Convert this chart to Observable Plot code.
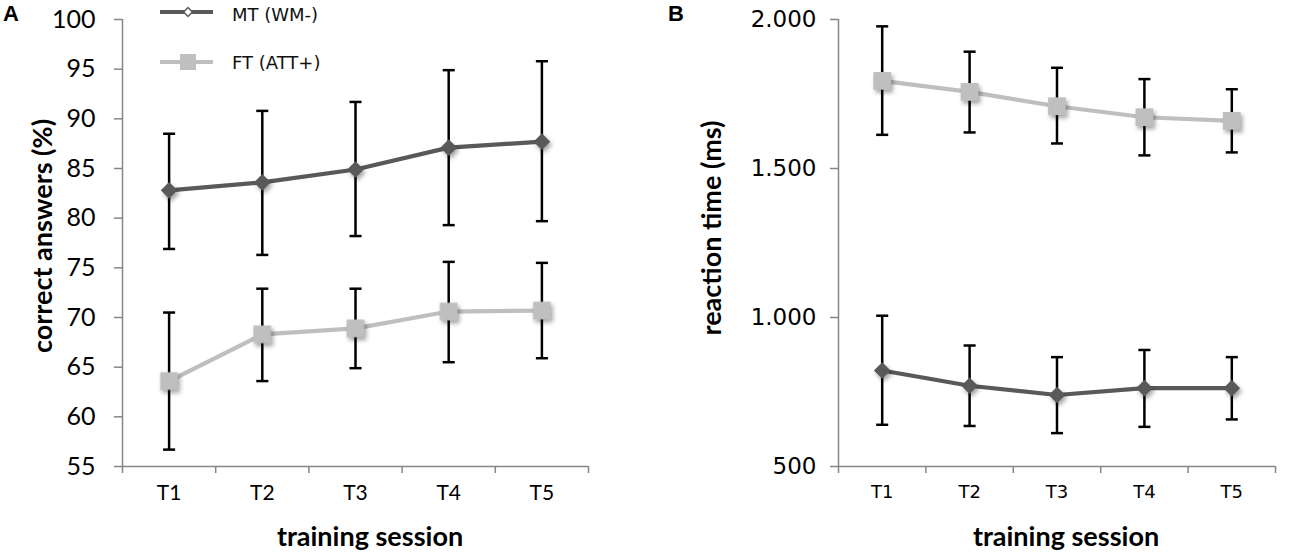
<!DOCTYPE html>
<html>
<head>
<meta charset="utf-8">
<script src="https://cdn.jsdelivr.net/npm/d3@7"></script>
<script src="https://cdn.jsdelivr.net/npm/@observablehq/plot@0.6"></script>
<style>
  html, body { margin: 0; padding: 0; background: #fff; }
  #wrap { position: relative; width: 1300px; height: 555px; overflow: hidden; }
  .panel { position: absolute; top: 0; }
  .ttl { position: absolute; font-family: Lato, "Open Sans", sans-serif; font-weight: 700; color: #000; white-space: nowrap; line-height: 1; }
  .letter { position: absolute; font-family: "Liberation Sans", Arial, sans-serif; font-weight: 700; font-size: 22px; line-height: 1; }
  .leg { position: absolute; font-family: "DejaVu Sans", sans-serif; font-size: 18px; color: #111; white-space: nowrap; line-height: 1; }
</style>
</head>
<body>
<div id="wrap"></div>
<script>
// ---- data ----
const sessions = ["T1", "T2", "T3", "T4", "T5"];
const seriesNames = ["MT (WM-)", "FT (ATT+)"];

// Panel A: correct answers (%)
const mtCorrect   = [82.8, 83.6, 84.9, 87.1, 87.7];
const mtCorrectLo = [76.9, 76.3, 78.2, 79.3, 79.7];
const mtCorrectHi = [88.5, 90.8, 91.7, 94.9, 95.8];
const ftCorrect   = [63.6, 68.3, 68.9, 70.6, 70.7];
const ftCorrectLo = [56.7, 63.6, 64.9, 65.5, 65.9];
const ftCorrectHi = [70.5, 72.9, 72.9, 75.6, 75.5];

// Panel B: reaction time (ms)
const mtRT   = [822, 771, 740, 763, 763];
const mtRTLo = [640, 636, 612, 633, 658];
const mtRTHi = [1006, 906, 867, 891, 867];
const ftRT   = [1794, 1757, 1709, 1672, 1660];
const ftRTLo = [1613, 1621, 1584, 1544, 1554];
const ftRTHi = [1977, 1892, 1838, 1800, 1766];

const yTicksA = [55, 60, 65, 70, 75, 80, 85, 90, 95, 100];
const yTicksB = [500, 1000, 1500, 2000];

// ---- styles ----
const MT_COLOR = "#595959";
const FT_COLOR = "#bfbfbf";
const AXIS_COLOR = "#868686";

const toRows = (vals, lo, hi) => vals.map((v, i) => ({x: i + 1, s: sessions[i], v, lo: lo[i], hi: hi[i]}));

const capSymbol = {
  draw(ctx, size) {
    const w = Math.sqrt(size);
    ctx.moveTo(-w / 2, 0);
    ctx.lineTo(w / 2, 0);
  }
};

const deLocale = d3.formatLocale({decimal: ",", thousands: ".", grouping: [3], currency: ["", ""]});

function panel({mt, ft, yDomain, yTicks, yFormat, tickFont, tickSize, xTickFont, xTickSize, marginLeft, marginRight, yPad}) {
  const n = sessions.length;
  const bounds = d3.range(n + 1).map(i => i + 0.5);
  const centers = d3.range(1, n + 1);
  const shadow = "drop-shadow(2px 3px 2px rgba(0,0,0,0.35))";
  const series = [
    {rows: mt, color: MT_COLOR, symbol: "diamond2", r: 7.5},
    {rows: ft, color: FT_COLOR, symbol: "square", r: 10}
  ];
  const marks = [
    Plot.ruleX([bounds[0]], {y1: yDomain[0], y2: yDomain[1], stroke: AXIS_COLOR, strokeWidth: 1.5}),
    Plot.ruleY([yDomain[0]], {x1: bounds[0], x2: bounds[n], stroke: AXIS_COLOR, strokeWidth: 1.5}),
    Plot.axisY({ticks: yTicks, tickFormat: yFormat, tickSize: 8, tickPadding: yPad, stroke: AXIS_COLOR, strokeWidth: 1.5,
      fontFamily: tickFont, fontSize: tickSize, fill: "#000", label: null}),
    Plot.axisX({ticks: bounds, tickFormat: () => "", tickSize: 7, stroke: AXIS_COLOR, strokeWidth: 1.5, label: null}),
    Plot.axisX({ticks: centers, tickFormat: i => sessions[i - 1], tickSize: 0, tickPadding: 19,
      fontFamily: xTickFont, fontSize: xTickSize, fill: "#000", label: null})
  ];
  for (const s of series) {
    marks.push(Plot.line(s.rows, {x: "x", y: "v", stroke: s.color, strokeWidth: 4.2}));
  }
  for (const s of series) {
    marks.push(Plot.ruleX(s.rows, {x: "x", y1: "lo", y2: "hi", stroke: "#000", strokeWidth: 2.5}));
    marks.push(Plot.dot(s.rows, {x: "x", y: "lo", symbol: capSymbol, r: 6.8, stroke: "#000", strokeWidth: 2.5, fill: "none"}));
    marks.push(Plot.dot(s.rows, {x: "x", y: "hi", symbol: capSymbol, r: 6.8, stroke: "#000", strokeWidth: 2.5, fill: "none"}));
  }
  for (const s of series) {
    marks.push(Plot.dot(s.rows, {x: "x", y: "v", symbol: s.symbol, r: s.r, fill: s.color, stroke: "none", imageFilter: shadow}));
  }
  return Plot.plot({
    width: 650,
    height: 555,
    marginLeft, marginRight,
    marginTop: 19,
    marginBottom: 89,
    x: {domain: [bounds[0], bounds[n]], axis: null},
    y: {domain: yDomain, axis: null},
    style: {background: "transparent", overflow: "visible"},
    marks
  });
}

const wrap = document.getElementById("wrap");

const plotA = panel({
  mt: toRows(mtCorrect, mtCorrectLo, mtCorrectHi),
  ft: toRows(ftCorrect, ftCorrectLo, ftCorrectHi),
  yDomain: [55, 100], yTicks: yTicksA, yFormat: d3.format("d"),
  tickFont: "Lato", tickSize: 25, xTickFont: "Lato", xTickSize: 21,
  marginLeft: 122, marginRight: 62, yPad: 19
});
plotA.classList.add("panel");
plotA.style.left = "0px";
wrap.appendChild(plotA);

const plotB = panel({
  mt: toRows(mtRT, mtRTLo, mtRTHi),
  ft: toRows(ftRT, ftRTLo, ftRTHi),
  yDomain: [500, 2000], yTicks: yTicksB, yFormat: deLocale.format(","),
  tickFont: "DejaVu Sans", tickSize: 23, xTickFont: "DejaVu Sans", xTickSize: 18,
  marginLeft: 188, marginRight: 25, yPad: 14
});
plotB.classList.add("panel");
plotB.style.left = "650px";
wrap.appendChild(plotB);

// ---- text: panel letters, axis titles ----
function addDiv(cls, text, css) {
  const d = document.createElement("div");
  d.className = cls;
  d.textContent = text;
  Object.assign(d.style, css);
  wrap.appendChild(d);
  return d;
}
addDiv("letter", "A", {left: "3px", top: "3px"});
addDiv("letter", "B", {left: "668px", top: "3px"});

addDiv("ttl", "training session", {left: "370px", top: "522px", fontSize: "27px", transform: "translateX(-50%)"});
addDiv("ttl", "training session", {left: "1066px", top: "522px", fontSize: "27px", transform: "translateX(-50%)"});
addDiv("ttl", "correct answers (%)", {left: "41px", top: "236px", fontSize: "27px", transform: "translate(-50%,-50%) rotate(-90deg)"});
addDiv("ttl", "reaction time (ms)", {left: "710px", top: "228px", fontSize: "27px", transform: "translate(-50%,-50%) rotate(-90deg)"});

// ---- legend ----
const legSvg = d3.create("svg").attr("width", 70).attr("height", 80)
  .style("position", "absolute").style("left", "155px").style("top", "0px");
legSvg.append("line").attr("x1", 5).attr("x2", 58).attr("y1", 12).attr("y2", 12).attr("stroke", MT_COLOR).attr("stroke-width", 4);
legSvg.append("path").attr("d", d3.symbol(d3.symbolDiamond2, 50)()).attr("transform", "translate(33,12)")
  .attr("fill", "#fff").attr("stroke", MT_COLOR).attr("stroke-width", 1.5);
legSvg.append("line").attr("x1", 5).attr("x2", 58).attr("y1", 62).attr("y2", 62).attr("stroke", FT_COLOR).attr("stroke-width", 4);
legSvg.append("path").attr("d", d3.symbol(d3.symbolSquare, 256)()).attr("transform", "translate(33,62)")
  .attr("fill", FT_COLOR);
wrap.appendChild(legSvg.node());
addDiv("leg", seriesNames[0], {left: "232px", top: "6px"});
addDiv("leg", seriesNames[1], {left: "232px", top: "54px"});
</script>
</body>
</html>
